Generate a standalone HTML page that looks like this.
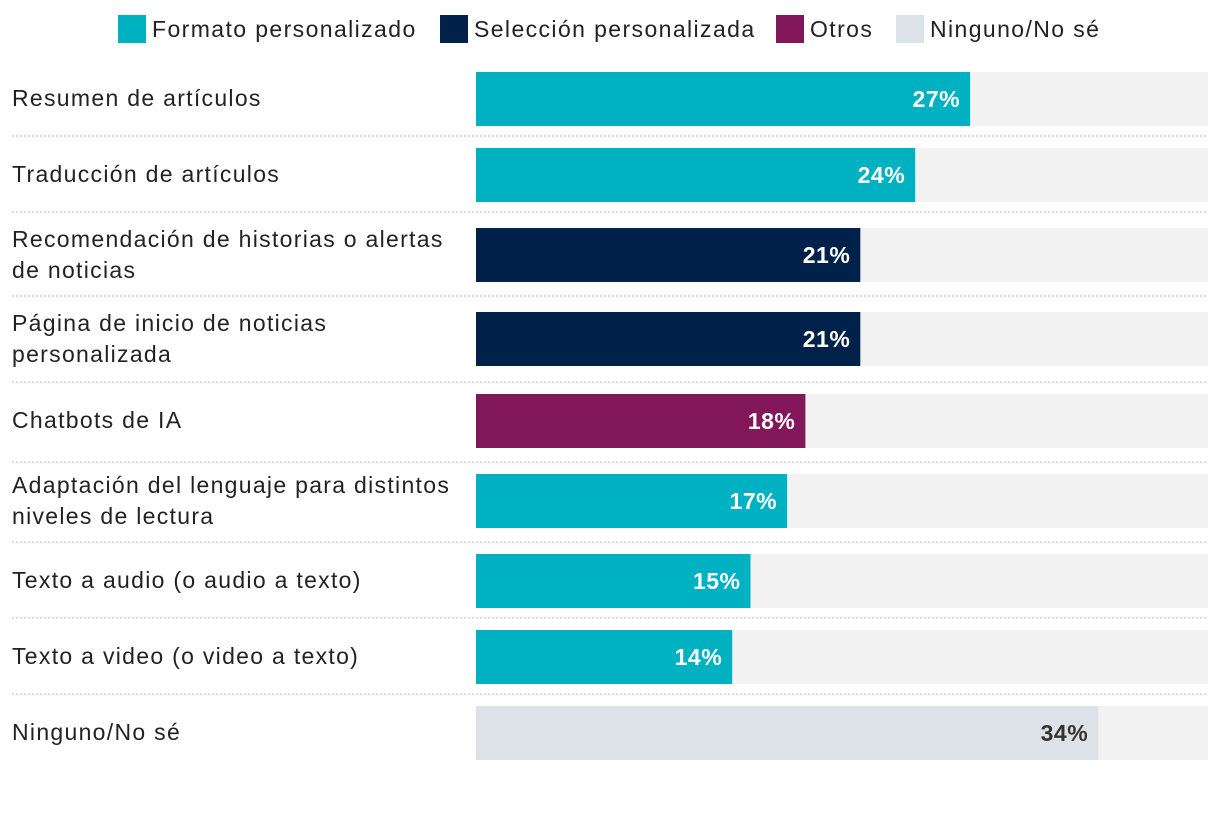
<!DOCTYPE html>
<html><head><meta charset="utf-8">
<style>
body{margin:0;background:#fff;width:1220px;height:810px;overflow:hidden;font-family:"Liberation Sans",sans-serif;}
svg text{font-family:"Liberation Sans",sans-serif;}
</style></head>
<body>
<svg id="chart" width="1220" height="810">
  <g id="legend"></g>
  <g id="rows"></g>
</svg>
<script>
const categories=[["Resumen de artículos"],["Traducción de artículos"],["Recomendación de historias o alertas","de noticias"],["Página de inicio de noticias","personalizada"],["Chatbots de IA"],["Adaptación del lenguaje para distintos","niveles de lectura"],["Texto a audio (o audio a texto)"],["Texto a video (o video a texto)"],["Ninguno/No sé"]];
const values=[27,24,21,21,18,17,15,14,34];
const groups=[0,0,1,1,2,0,0,0,3];
const legendLabels=["Formato personalizado","Selección personalizada","Otros","Ninguno/No sé"];
const colors=["#00b2c1","#00214a","#82175c","#dde1e8"];
const barTops=[72,148,228,312,394,474,554,630,706];
const seps=[136,212,296,382,462,542,618,694];
const NS="http://www.w3.org/2000/svg";
const x0=476,trackW=732,maxV=40;
const xs=v=>v/maxV*trackW;
function mk(tag,attrs,parent){const e=document.createElementNS(NS,tag);for(const k in attrs)e.setAttribute(k,attrs[k]);parent.appendChild(e);return e;}
const lg=document.getElementById('legend');
const legX=[118,440,776,896];
legendLabels.forEach((l,i)=>{
  const sw=mk('rect',{x:legX[i],y:15,width:28,height:28,fill:colors[i]},lg);
  
  
  const t=mk('text',{x:legX[i]+34,y:37,'font-size':23,'letter-spacing':1.4,fill:'#222'},lg);
  t.textContent=l;
  
  
});
const rg=document.getElementById('rows');
seps.forEach(y=>{
  const s=mk('line',{x1:12,x2:1208,y1:y,y2:y,stroke:'#c8c8c8','stroke-width':1.2,'stroke-dasharray':'2,2'},rg);
  
  
});
categories.forEach((c,i)=>{
  const top=barTops[i],h=54;
  const tr=mk('rect',{x:x0,y:top,width:trackW,height:h,fill:'#f2f2f2'},rg);
  
  
  const w=xs(values[i]);
  const b=mk('rect',{x:x0,y:top,width:w,height:h,fill:colors[groups[i]]},rg);
  
  
  const vt=mk('text',{x:x0+w-10,y:top+h/2+8,'font-size':23,'font-weight':'bold','letter-spacing':0.5,'text-anchor':'end',fill:groups[i]===3?'#333':'#fff'},rg);
  vt.textContent=values[i]+'%';
  
  
  const cy=top+h/2;
  c.forEach((ln,j)=>{
    const t=mk('text',{x:12,y:c.length===1?cy+7:cy-8+j*31,'font-size':23,'letter-spacing':1.3,fill:'#222'},rg);
    t.textContent=ln;
    
    
  });
});
</script>
</body></html>
